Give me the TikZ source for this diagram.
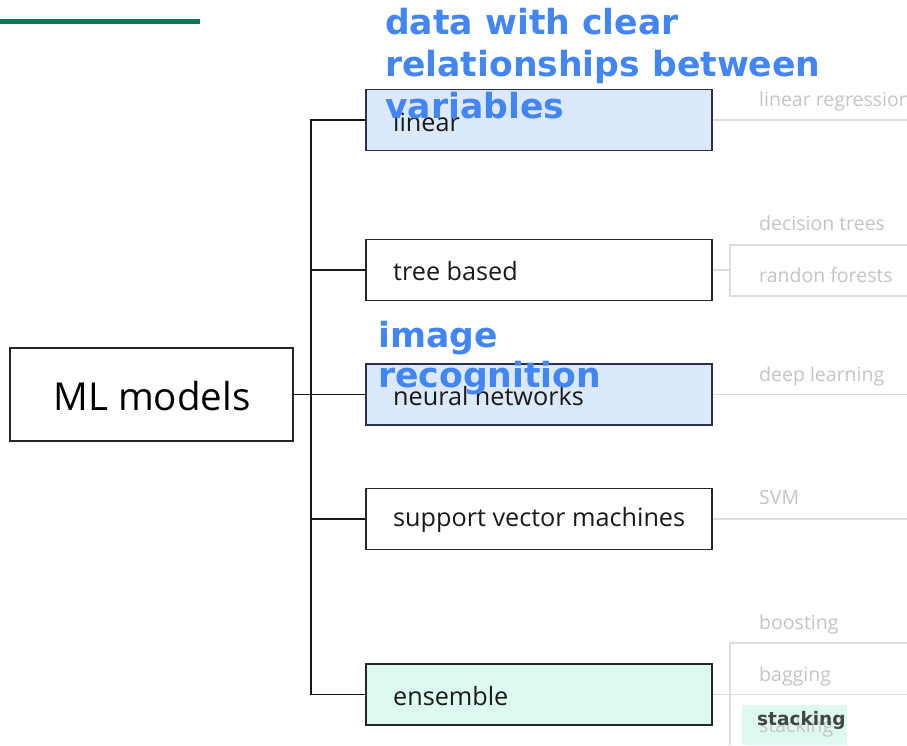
\documentclass[tikz,border=0pt]{standalone}
\usepackage{fontspec}
\setmainfont{Open Sans}
\newfontfamily\notefont{DejaVu Sans}
\definecolor{accentgreen}{HTML}{007A5A}
\definecolor{boxblue}{HTML}{DCE8FB}
\definecolor{boxmint}{HTML}{DCFAF0}
\definecolor{navyline}{HTML}{2A2F4A}
\definecolor{faintline}{HTML}{DDDDDD}
\definecolor{fainttext}{HTML}{C4C4C4}
\definecolor{noteblue}{HTML}{4285F4}
\definecolor{notegray}{HTML}{444444}
\tikzset{
  modelbox/.style={draw=black!85, line width=1.2pt, minimum width=346pt, minimum height=61pt, inner sep=0pt},
  boxlabel/.style={anchor=west, inner sep=0pt, font=\fontsize{25.2}{29}\selectfont, text=black!90},
  trunkline/.style={line width=1.1pt, draw=black!90},
  subline/.style={line width=1.2pt, draw=faintline},
  sublabel/.style={anchor=base west, inner sep=0pt, font=\fontsize{19.5}{22}\selectfont, text=fainttext},
  note/.style={anchor=base west, inner sep=0pt, align=left, text=noteblue, font=\notefont\bfseries\fontsize{34.6}{42}\selectfont},
}
\begin{document}
\begin{tikzpicture}[x=1pt, y=-1pt]
\useasboundingbox (0,0) rectangle (907,745);
\clip (0,0) rectangle (907,745);

% header rule
\draw[accentgreen, line width=5pt] (0,21) -- (200,21);

% root
\node[draw=black!85, line width=1.2pt, minimum width=283pt, minimum height=93pt, inner sep=0pt] (ml) at (151.5,394.5) {};
\node[inner sep=0pt, font=\fontsize{38.5}{44}\selectfont] (mltext) at (152,396) {ML models};

% model boxes
\node[modelbox, fill=boxblue, draw=navyline] (lin) at (539,120) {};
\node[modelbox] (tree) at (539,270) {};
\node[modelbox, fill=boxblue, draw=navyline] (nn) at (539,394.5) {};
\node[modelbox] (svm) at (539,519) {};
\node[modelbox, fill=boxmint] (ens) at (539,694.5) {};

\node[boxlabel] (lint) at (393,122) {linear};
\node[boxlabel] (treet) at (393,271) {tree based};
\node[boxlabel] (nnt) at (393,396) {neural networks};
\node[boxlabel] (svmt) at (393,520) {support vector machines};
\node[boxlabel] (enst) at (393,696) {ensemble};

% trunk and branches
\coordinate (trunk) at (311,394.5);
\draw[trunkline] (ml.east) -- (trunk);
\draw[trunkline] (lin.west) -| (trunk) |- (ens.west);
\draw[trunkline] (tree.west) -- (tree.west -| trunk);
\draw[trunkline] (nn.west) -- (trunk);
\draw[trunkline] (svm.west) -- (svm.west -| trunk);

% sub-categories
\coordinate (edge) at (907,0);
\draw[subline] (lin.east) -- (lin.east -| edge);
\draw[subline] (nn.east) -- (nn.east -| edge);
\draw[subline] (svm.east) -- (svm.east -| edge);
\draw[subline] (ens.east) -- (ens.east -| edge);

\coordinate (tb) at (730,270);
\draw[subline] (tree.east) -- (tb);
\draw[subline] (907,245) -- (730,245) -- (730,296) -- (907,296);
\draw[subline] (907,643) -- (730,643) -- (730,745);

\node[sublabel] (lr) at (759,106) {linear regression};
\node[sublabel] (dt) at (759,230) {decision trees};
\node[sublabel] (rf) at (759,282) {randon forests};
\node[sublabel] (dl) at (759,381) {deep learning};
\node[sublabel] (sv) at (759,504) {SVM};
\node[sublabel] (bo) at (759,629) {boosting};
\node[sublabel] (ba) at (759,681) {bagging};

% highlighted stacking tag
\fill[boxmint] (742,705) rectangle (847,745);
\node[sublabel] (st) at (759,732) {stacking};
\node[anchor=base west, inner sep=0pt, text=notegray, font=\notefont\bfseries\fontsize{18.5}{22}\selectfont] (stb) at (757,725) {stacking};

% notes
\node[note] (n1) at (385,118) {data with clear\\relationships between\\variables};
\node[note, font=\notefont\bfseries\fontsize{34.6}{40}\selectfont] (n2) at (378,387) {image\\recognition};
\end{tikzpicture}
\end{document}
